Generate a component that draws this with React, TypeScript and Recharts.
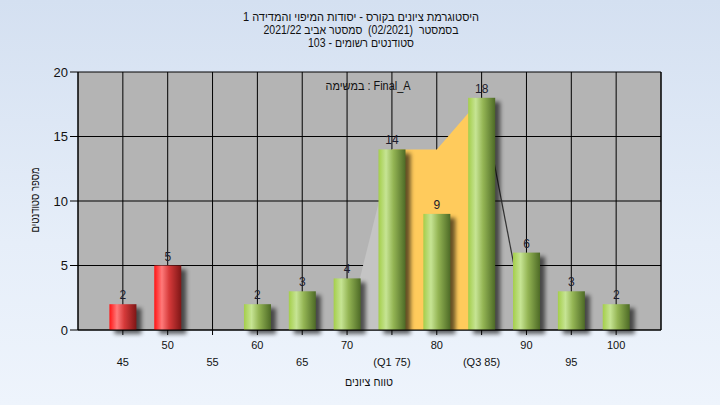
import React from 'react';
import {
  ComposedChart,
  Bar,
  Area,
  XAxis,
  YAxis,
  CartesianGrid,
  LabelList,
} from 'recharts';

// ---- data ----
const grades = [45, 50, 55, 60, 65, 70, 75, 80, 85, 90, 95, 100];
const counts = [2, 5, null, 2, 3, 4, 14, 9, 18, 6, 3, 2];
const failingGrades = [45, 50];
const tickLabels = ['45', '50', '55', '60', '65', '70', '(Q1 75)', '80', '(Q3 85)', '90', '95', '100'];
const lowerTail = [null, null, null, null, null, 0, 14, null, null, null, null, null];
const quartileBand = [null, null, null, null, null, null, 14, 14, 18, null, null, null];
const upperTail = [null, null, null, null, null, null, null, null, 18, 0, null, null];
const yTicks = [0, 5, 10, 15, 20];

const titleLines = [
  'היסטוגרמת ציונים בקורס - יסודות המיפוי והמדידה 1',
  'בסמסטר  (02/2021)  סמסטר אביב 2021/22',
  'סטודנטים רשומים - 103',
];
const assignmentLabel = 'במשימה : Final_A';
const xAxisTitle = 'טווח ציונים';
const yAxisTitle = 'מספר סטודנטים';

const data = grades.map((g, i) => ({
  grade: g,
  count: counts[i],
  lowerTail: lowerTail[i],
  quartileBand: quartileBand[i],
  upperTail: upperTail[i],
}));

const FONT = '"Liberation Sans", Arial, sans-serif';

const BarShape = (props: any) => {
  const { x, y, width, height, payload } = props;
  if (!height || height <= 0) return null;
  const fail = failingGrades.includes(payload.grade);
  return (
    <g>
      <rect
        x={x + 5}
        y={y + 4}
        width={width}
        height={height}
        fill="#000"
        opacity={0.6}
        filter="url(#barShadowBlur)"
      />
      <rect x={x} y={y} width={width} height={height} fill={fail ? 'url(#redGrad)' : 'url(#greenGrad)'} />
    </g>
  );
};

const XTick = (props: any) => {
  const { x, y, payload } = props;
  const i = grades.indexOf(payload.value);
  const lower = i % 2 === 0;
  return (
    <text
      x={x}
      y={y + (lower ? 29 : 12)}
      textAnchor="middle"
      fontSize={11}
      fill="#111"
      fontFamily={FONT}
    >
      {tickLabels[i]}
    </text>
  );
};

export default function App() {
  return (
    <div
      style={{
        position: 'fixed',
        left: 0,
        top: 0,
        width: 720,
        height: 405,
        background: 'linear-gradient(180deg, #D4E0F1 0%, #E6EEF9 60%, #EEF4FC 100%)',
        overflow: 'hidden',
      }}
    >
      <svg width={0} height={0} style={{ position: 'absolute' }}>
        <defs>
          <linearGradient id="greenGrad" x1="0" y1="0" x2="1" y2="0">
            <stop offset="0%" stopColor="#A4CE4A" />
            <stop offset="28%" stopColor="#C6E494" />
            <stop offset="55%" stopColor="#94B554" />
            <stop offset="100%" stopColor="#4D6A26" />
          </linearGradient>
          <linearGradient id="redGrad" x1="0" y1="0" x2="1" y2="0">
            <stop offset="0%" stopColor="#FF1414" />
            <stop offset="28%" stopColor="#FF7A7A" />
            <stop offset="55%" stopColor="#D63A3A" />
            <stop offset="100%" stopColor="#7E1616" />
          </linearGradient>
          <filter id="barShadowBlur" x="-50%" y="-20%" width="200%" height="140%">
            <feGaussianBlur stdDeviation="2.2" />
          </filter>
        </defs>
      </svg>
      <div style={{ position: 'absolute', left: 0, top: 0 }}>
        <ComposedChart
          width={720}
          height={405}
          data={data}
          margin={{ top: 72, right: 0, bottom: 0, left: 0 }}
        >
          <CartesianGrid
            yAxisId="left"
            stroke="#000"
            strokeWidth={1}
            fill="#B4B4B4"
            fillOpacity={1}
          />
          <XAxis
            dataKey="grade"
            type="number"
            domain={[40, 105]}
            ticks={grades}
            interval={0}
            height={75}
            tickSize={5}
            tickMargin={2}
            axisLine={{ stroke: '#000' }}
            tickLine={{ stroke: '#000' }}
            tick={<XTick />}
          />
          <YAxis
            yAxisId="left"
            domain={[0, 20]}
            ticks={yTicks}
            width={78}
            tickSize={8}
            tickMargin={2}
            axisLine={{ stroke: '#000' }}
            tickLine={{ stroke: '#000' }}
            tick={{ fontSize: 13, fill: '#111', fontFamily: FONT }}
          />
          <YAxis
            yAxisId="right"
            orientation="right"
            domain={[0, 20]}
            ticks={yTicks}
            width={59}
            tickSize={8}
            tickMargin={2}
            axisLine={{ stroke: '#000' }}
            tickLine={{ stroke: '#000' }}
            tick={{ fontSize: 13, fill: '#0E1A3C', fontFamily: FONT }}
          />
          <Area
            yAxisId="left"
            type="linear"
            dataKey="lowerTail"
            fill="#C4C4C4"
            fillOpacity={1}
            stroke="none"
            dot={false}
            activeDot={false}
            isAnimationActive={false}
          />
          <Area
            yAxisId="left"
            type="linear"
            dataKey="quartileBand"
            fill="#FFCB5C"
            fillOpacity={1}
            stroke="none"
            dot={false}
            activeDot={false}
            isAnimationActive={false}
          />
          <Area
            yAxisId="left"
            type="linear"
            dataKey="upperTail"
            fill="none"
            fillOpacity={0}
            stroke="#333"
            strokeWidth={1.2}
            dot={false}
            activeDot={false}
            isAnimationActive={false}
          />
          <Bar
            yAxisId="left"
            dataKey="count"
            barSize={27}
            shape={<BarShape />}
            isAnimationActive={false}
          >
            <LabelList
              dataKey="count"
              position="top"
              offset={5}
              fontSize={12}
              fill="#1C1C2C"
              fontFamily={FONT}
            />
          </Bar>
        </ComposedChart>
      </div>
      <svg
        width={720}
        height={405}
        style={{ position: 'absolute', left: 0, top: 0, pointerEvents: 'none' }}
        fontFamily={FONT}
      >
        {titleLines.map((t, i) => (
          <text
            key={i}
            x={361}
            y={21 + i * 13}
            textAnchor="middle"
            fontSize={12}
            fill="#111"
            style={{ whiteSpace: 'pre' }}
            textLength={[236, 195, 106][i]}
            lengthAdjust="spacingAndGlyphs"
          >
            {t}
          </text>
        ))}
        <text
          x={368}
          y={90}
          textAnchor="middle"
          fontSize={12}
          fill="#111"
          textLength={85}
          lengthAdjust="spacingAndGlyphs"
        >
          {assignmentLabel}
        </text>
        <text
          x={369}
          y={386}
          textAnchor="middle"
          fontSize={12}
          fill="#111"
          textLength={48}
          lengthAdjust="spacingAndGlyphs"
        >
          {xAxisTitle}
        </text>
        <text
          x={0}
          y={0}
          transform="translate(39 200) rotate(-90)"
          textAnchor="middle"
          fontSize={12}
          fill="#111"
          textLength={65}
          lengthAdjust="spacingAndGlyphs"
        >
          {yAxisTitle}
        </text>
      </svg>
    </div>
  );
}
